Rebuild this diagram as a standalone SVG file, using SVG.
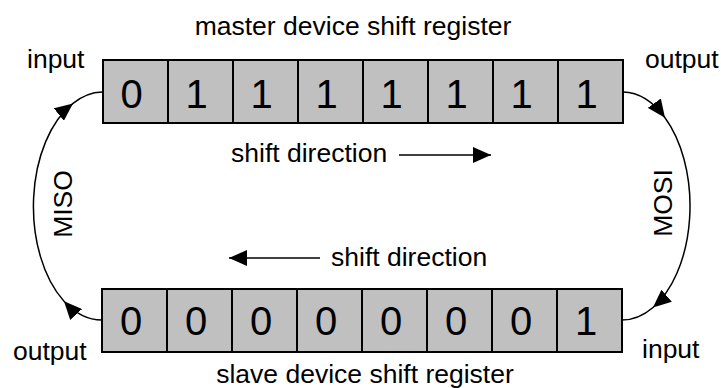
<svg xmlns="http://www.w3.org/2000/svg" width="721" height="388" viewBox="0 0 721 388">
<style>
text{font-family:"Liberation Sans",Arial,sans-serif;fill:#000}
.lbl{font-size:26.5px}
.dig{font-size:40px;text-anchor:middle}
.cell{fill:#c0c0c0;stroke:#000;stroke-width:2}
.con{fill:none;stroke:#000;stroke-width:1.5}
</style>
<defs>
<marker id="ah" markerUnits="userSpaceOnUse" viewBox="0 0 18 16" refX="18" refY="8" markerWidth="18" markerHeight="16" orient="auto">
<path d="M0,0 L18,8 L0,16 z" fill="#000"/>
</marker>
</defs>
<rect width="721" height="388" fill="#fff"/>
<text class="lbl" x="353" y="35" text-anchor="middle">master device shift register</text>
<text class="lbl" x="365" y="383" text-anchor="middle">slave device shift register</text>
<g id="master">
<rect class="cell" x="103" y="60" width="65" height="63"/>
<rect class="cell" x="168" y="60" width="65" height="63"/>
<rect class="cell" x="233" y="60" width="65" height="63"/>
<rect class="cell" x="298" y="60" width="65" height="63"/>
<rect class="cell" x="363" y="60" width="65" height="63"/>
<rect class="cell" x="428" y="60" width="65" height="63"/>
<rect class="cell" x="493" y="60" width="65" height="63"/>
<rect class="cell" x="558" y="60" width="65" height="63"/>
<text class="dig" x="131.5" y="107.5">0</text>
<text class="dig" x="196.5" y="107.5">1</text>
<text class="dig" x="261.5" y="107.5">1</text>
<text class="dig" x="326.5" y="107.5">1</text>
<text class="dig" x="391.5" y="107.5">1</text>
<text class="dig" x="456.5" y="107.5">1</text>
<text class="dig" x="521.5" y="107.5">1</text>
<text class="dig" x="586.5" y="107.5">1</text>
</g>
<g id="slave">
<rect class="cell" x="102" y="289" width="65" height="63"/>
<rect class="cell" x="167" y="289" width="65" height="63"/>
<rect class="cell" x="232" y="289" width="65" height="63"/>
<rect class="cell" x="297" y="289" width="65" height="63"/>
<rect class="cell" x="362" y="289" width="65" height="63"/>
<rect class="cell" x="427" y="289" width="65" height="63"/>
<rect class="cell" x="492" y="289" width="65" height="63"/>
<rect class="cell" x="557" y="289" width="65" height="63"/>
<text class="dig" x="131" y="335">0</text>
<text class="dig" x="196" y="335">0</text>
<text class="dig" x="261" y="335">0</text>
<text class="dig" x="326" y="335">0</text>
<text class="dig" x="391" y="335">0</text>
<text class="dig" x="456" y="335">0</text>
<text class="dig" x="521" y="335">0</text>
<text class="dig" x="586" y="335">1</text>
</g>
<g id="labels">
<text class="lbl" x="27" y="68">input</text>
<text class="lbl" x="645" y="68">output</text>
<text class="lbl" x="13" y="360">output</text>
<text class="lbl" x="642" y="358">input</text>
<text class="lbl" transform="translate(71.5,204) rotate(-90)" text-anchor="middle">MISO</text>
<text class="lbl" transform="translate(671.5,203) rotate(-90)" text-anchor="middle">MOSI</text>
<text class="lbl" x="231" y="162">shift direction</text>
<text class="lbl" x="331" y="266">shift direction</text>
</g>
<g id="connectors">
<path class="con" d="M102,320 A69,114 0 0 1 64,301.2 A69,114 0 0 1 73,103.4 A69,114 0 0 1 102,92" marker-mid="url(#ah)"/>
<path class="con" d="M623,92 A68,114 0 0 1 665,117.7 A68,114 0 0 1 653,307.5 A68,114 0 0 1 622,320" marker-mid="url(#ah)"/>
<line class="con" x1="399" y1="155" x2="491" y2="155" marker-end="url(#ah)"/>
<line class="con" x1="320" y1="258" x2="229" y2="258" marker-end="url(#ah)"/>
</g>
</svg>
